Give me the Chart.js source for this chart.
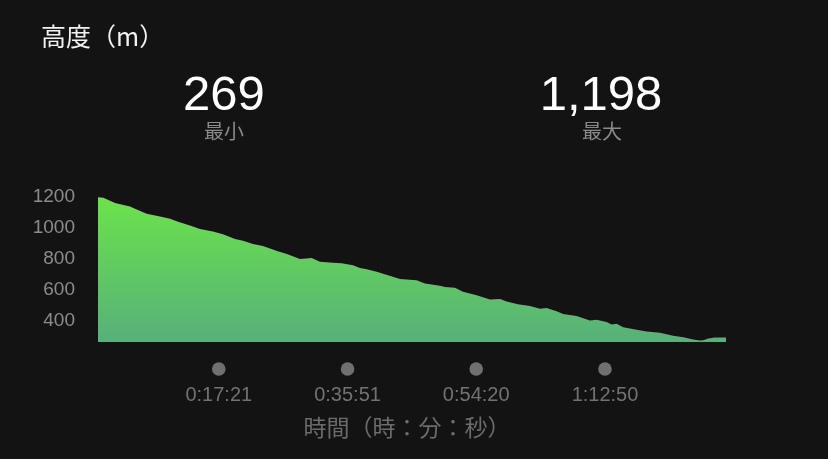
<!DOCTYPE html>
<html>
<head>
<meta charset="utf-8">
<script src="https://cdn.jsdelivr.net/npm/chart.js@4"></script>
<style>
  html, body { margin: 0; padding: 0; background: #131313; }
  body { width: 828px; height: 459px; position: relative; overflow: hidden; }
  #wrap { position: absolute; left: 0; top: 0; width: 828px; height: 459px; }
  .txt { position: absolute; white-space: nowrap; }
  #title { left: 41px; top: 17px; font: 25px 'Noto Sans CJK JP', sans-serif; color: #f2f2f2; }
  .num { font: 49px 'Liberation Sans', Arial, sans-serif; color: #ffffff; transform: translateX(-50%); top: 65px; }
  .lbl { font: 20px 'Noto Sans CJK JP', sans-serif; color: #8a8a8a; transform: translateX(-50%); top: 116px; }
  #xtitle { left: 407px; top: 409px; transform: translateX(-50%); font: 23px 'Noto Sans CJK JP', sans-serif; color: #6c6c6c; }
</style>
</head>
<body>
<div id="wrap"><canvas id="altChart"></canvas></div>
<div class="txt" id="title">高度（m）</div>
<div class="txt num" style="left:224px">269</div>
<div class="txt lbl" style="left:224px">最小</div>
<div class="txt num" style="left:601px">1,198</div>
<div class="txt lbl" style="left:602px">最大</div>
<div class="txt" id="xtitle">時間（時：分：秒）</div>
<script>
// elapsed time (seconds) and altitude (m)
var times = [0, 46, 147, 276, 319, 420, 534, 621, 690, 793, 879, 991, 1077, 1181, 1250, 1336, 1422, 1543, 1629, 1741,
  1842, 1913, 2025, 2100, 2198, 2258, 2316, 2402, 2500, 2603, 2747, 2818, 2948, 2991, 3077, 3146, 3264, 3379, 3465, 3523,
  3620, 3723, 3810, 3867, 3953, 4010, 4126, 4240, 4298, 4384, 4427, 4470, 4527, 4643, 4729, 4844, 4958, 5045, 5131, 5188,
  5217, 5260, 5317, 5413];
var altitude = [1198, 1195, 1161, 1139, 1124, 1091, 1074, 1059, 1039, 1015, 993, 976, 959, 928, 917, 896, 882, 850, 830, 798,
  804, 780, 774, 771, 758, 739, 732, 715, 693, 669, 661, 639, 624, 617, 611, 585, 563, 535, 539, 522,
  504, 493, 476, 480, 459, 441, 428, 400, 405, 389, 374, 378, 356, 339, 328, 320, 300, 291, 276, 269,
  272, 283, 289, 289];
var timeTicks = [1041, 2151, 3260, 4370];
var altTicks = [400, 600, 800, 1000, 1200];
var totalTime = 5413;

function fmtTime(s) {
  var h = Math.floor(s / 3600), m = Math.floor((s % 3600) / 60), sec = s % 60;
  return h + ':' + String(m).padStart(2, '0') + ':' + String(sec).padStart(2, '0');
}

// grey dots above each time label
var tickDots = {
  id: 'tickDots',
  afterDraw: function (chart) {
    var c = chart.ctx, xs = chart.scales.x;
    c.save();
    c.fillStyle = '#707070';
    xs.ticks.forEach(function (t) {
      c.beginPath();
      c.arc(xs.getPixelForValue(t.value), 369, 6.8, 0, Math.PI * 2);
      c.fill();
    });
    c.restore();
  }
};

var ctx = document.getElementById('altChart').getContext('2d');
var altChart = new Chart(ctx, {
  type: 'line',
  data: {
    datasets: [{
      data: times.map(function (t, i) { return { x: t, y: altitude[i] }; }),
      fill: 'start',
      borderWidth: 0,
      pointRadius: 0,
      tension: 0,
      backgroundColor: function (context) {
        var area = context.chart.chartArea;
        if (!area) return '#60c860';
        var g = context.chart.ctx.createLinearGradient(0, area.top, 0, area.bottom);
        g.addColorStop(0, '#6be34b');
        g.addColorStop(1, '#57b07a');
        return g;
      }
    }]
  },
  options: {
    responsive: true,
    maintainAspectRatio: false,
    animation: false,
    layout: { padding: { top: 197, right: 102, bottom: 0, left: 0 } },
    plugins: { legend: { display: false }, tooltip: { enabled: false } },
    scales: {
      x: {
        type: 'linear',
        min: 0,
        max: totalTime,
        grid: { display: false, drawTicks: false },
        border: { display: false },
        afterBuildTicks: function (s) { s.ticks = timeTicks.map(function (v) { return { value: v }; }); },
        afterFit: function (s) { s.height = 117; },
        ticks: {
          autoSkip: false,
          maxRotation: 0,
          padding: 41,
          color: '#727272',
          font: { family: "'Liberation Sans', Arial, sans-serif", size: 20 },
          callback: function (v) { return fmtTime(v); }
        }
      },
      y: {
        min: 260,
        max: 1200,
        grid: { display: false, drawTicks: false },
        border: { display: false },
        afterBuildTicks: function (s) { s.ticks = altTicks.map(function (v) { return { value: v }; }); },
        afterFit: function (s) { s.width = 98; },
        ticks: {
          padding: 23,
          color: '#8c8c8c',
          font: { family: "'Liberation Sans', Arial, sans-serif", size: 19 },
          callback: function (v) { return String(v); }
        }
      }
    }
  },
  plugins: [tickDots]
});
</script>
</body>
</html>
